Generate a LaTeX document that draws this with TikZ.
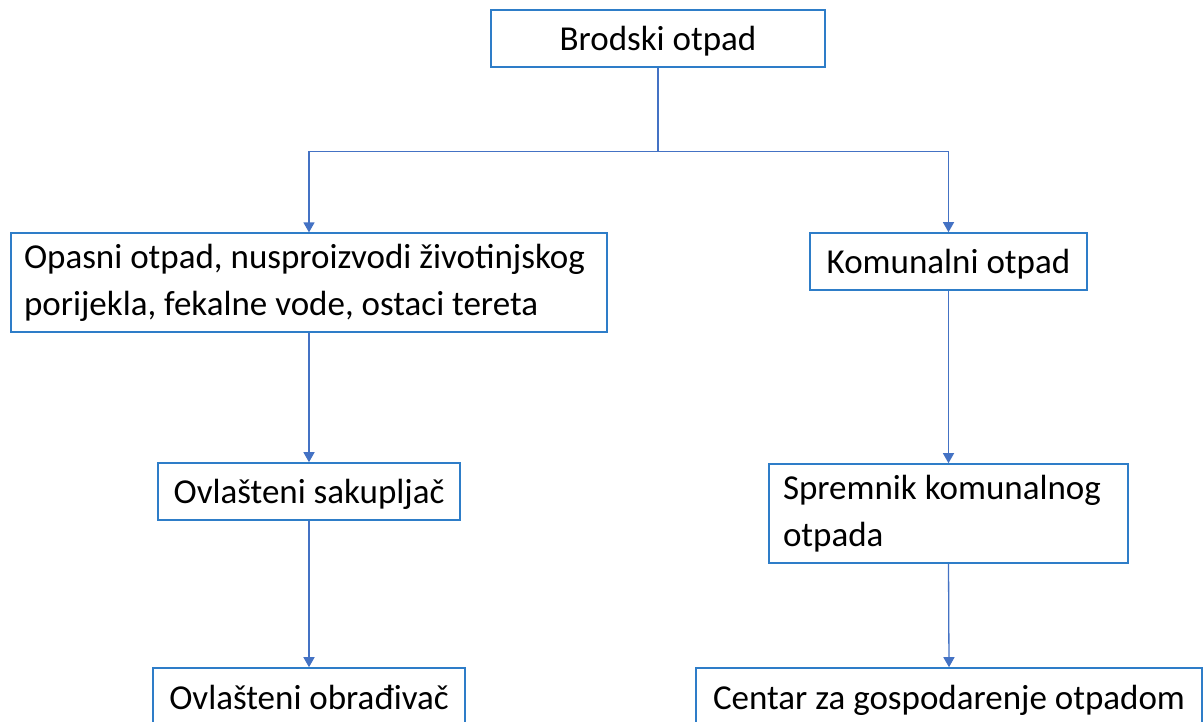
\documentclass[tikz,border=0pt]{standalone}
\usepackage{fontspec}
\setmainfont{Carlito}
\usetikzlibrary{arrows.meta,calc}
\definecolor{boxblue}{RGB}{46,125,200}
\definecolor{lineblue}{RGB}{68,114,196}
\begin{document}
\begin{tikzpicture}[x=1pt,y=-1pt,
  box/.style={draw=boxblue,line width=1.6pt,fill=white,inner sep=0pt,
    font=\fontsize{35}{41}\selectfont,text=black},
  onebox/.style={box,minimum height=57pt,text height=30pt,text depth=6pt},
  twobox/.style={box,minimum height=99pt,align=flush left},
  conn/.style={draw=lineblue,line width=1.3pt},
  arr/.style={conn,-{Triangle[width=11pt,length=10pt]}}]
\useasboundingbox (0,0) rectangle (1204,722);
\clip (0,0) rectangle (1204,722);
\fill[white] (0,0) rectangle (1204,722);
% boxes
\node[onebox,minimum width=334pt] (brod) at (658,38.5) {Brodski otpad};
\node[twobox,minimum width=596pt,text width=570pt] (opas) at (309,282.7)
  {\vspace*{6pt}Opasni otpad, nusproizvodi životinjskog\\porijekla, fekalne vode, ostaci tereta};
\node[onebox,minimum width=277pt] (kom) at (948.5,261.5) {Komunalni otpad};
\node[onebox,minimum width=302pt] (sak) at (309,491.5) {Ovlašteni sakupljač};
\node[twobox,minimum width=359pt,text width=331pt] (spr) at (948.5,513.5)
  {\vspace*{6pt}Spremnik komunalnog\\otpada};
\node[onebox,minimum width=312pt,minimum height=58pt] (obr) at (309,697) {Ovlašteni obrađivač};
\node[onebox,minimum width=506pt,minimum height=58pt] (cen) at (949,697) {Centar za gospodarenje otpadom};
% connectors
\coordinate (split) at ($(brod.south)+(0,83.5)$);
\draw[conn] (brod.south) -- (split);
\draw[arr] (split) -| (opas.north);
\draw[arr] (split) -| (kom.north);
\draw[arr] (opas.south) -- (sak.north);
\draw[arr] (sak.south) -- (obr.north);
\draw[arr] (kom.south) -- (spr.north);
\draw[arr] (spr.south) -- (cen.north);
\end{tikzpicture}
\end{document}
